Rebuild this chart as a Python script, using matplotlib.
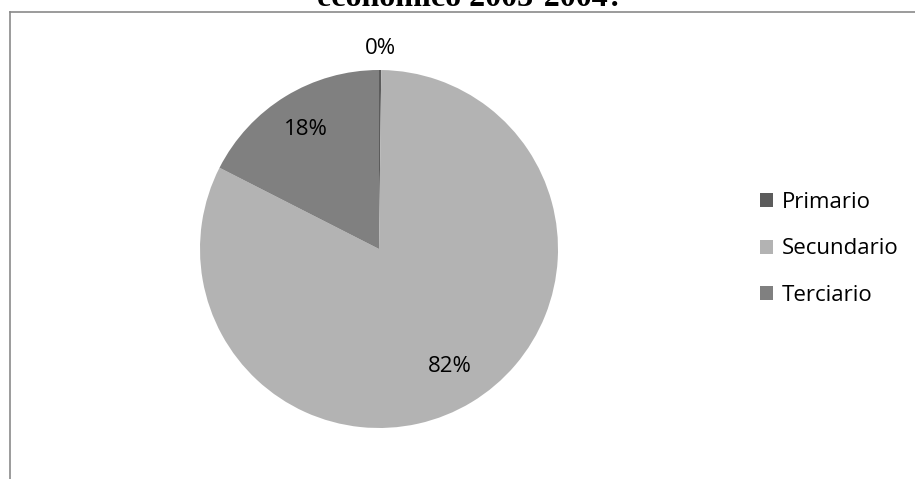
import numpy as np
import matplotlib
matplotlib.use("Agg")
import matplotlib.pyplot as plt
from matplotlib.lines import Line2D

# data
sectores = ["Primario", "Secundario", "Terciario"]
porcentajes = [0.2, 82.3, 17.5]
etiquetas = ["0%", "82%", "18%"]
colores = ["#5c5c5c", "#b3b3b3", "#808080"]
# radial position of each % label, as a fraction of the radius
dist_etiqueta = [1.12, 0.77, 0.78]

W, H = 915, 479
fig = plt.figure(figsize=(W / 100, H / 100), dpi=100)
plt.rcParams["font.family"] = ["Open Sans", "DejaVu Sans"]

# pie area in pixels: centre (379, 249), radius 179
cx, cy, r = 379, 249, 179
ax = fig.add_axes([(cx - r) / W, (H - cy - r) / H, 2 * r / W, 2 * r / H])
wedges, _ = ax.pie(porcentajes, colors=colores, startangle=90, counterclock=False,
                   radius=1, wedgeprops=dict(linewidth=0))
ax.set_xlim(-1, 1)
ax.set_ylim(-1, 1)
ax.set_aspect("equal")
ax.axis("off")

for w, txt, d in zip(wedges, etiquetas, dist_etiqueta):
    ang = np.deg2rad((w.theta1 + w.theta2) / 2)
    ax.text(d * np.cos(ang), d * np.sin(ang), txt, ha="center", va="center",
            fontsize=16, color="black", clip_on=False)

fig.legend(wedges, sectores, loc="center left", bbox_to_anchor=(760 / W, 1 - 249 / H),
           frameon=False, fontsize=16, handlelength=0.6, handleheight=0.6,
           handletextpad=0.4, labelspacing=1.16, borderpad=0, borderaxespad=0)

# chart frame (only top and left edges show, rest is cropped)
fig.add_artist(Line2D([9.5 / W, 1], [1 - 11.5 / H, 1 - 11.5 / H], color="#8a8a8a", lw=1.2))
fig.add_artist(Line2D([9.5 / W, 9.5 / W], [0, 1 - 11.5 / H], color="#8a8a8a", lw=1.2))

# title, mostly cut off by the top of the image (as in the reference)
fig.text(470 / W, 1 - 6 / H, "económico 2003-2004?", ha="center", va="baseline",
         fontsize=23, fontweight="bold", family="Liberation Serif")

fig.savefig("out.png", dpi=100, facecolor="white")
